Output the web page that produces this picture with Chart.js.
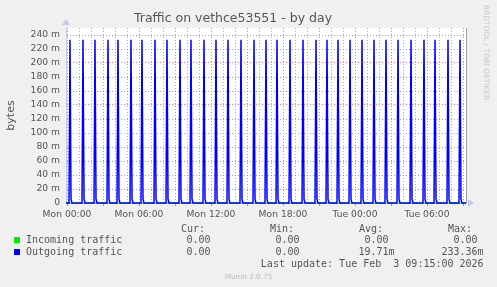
<!DOCTYPE html>
<html>
<head>
<meta charset="utf-8">
<script src="https://cdn.jsdelivr.net/npm/chart.js@4.4.1/dist/chart.umd.min.js"></script>
<style>
  html, body { margin: 0; padding: 0; background: #f0f0f0; }
  #wrap { position: relative; width: 497px; height: 287px; overflow: hidden; }
  #chart { position: absolute; left: 0; top: 0; }
  .mono { position: absolute; white-space: pre; font-family: "DejaVu Sans Mono", monospace; font-size: 10px; line-height: 12px; color: #555; }
  .box { position: absolute; width: 6px; height: 6px; }
  #rrd { position: absolute; left: 482px; top: 5px; writing-mode: vertical-rl; font-family: "DejaVu Sans", sans-serif; font-size: 7.4px; line-height: 9px; color: #c8c8c8; white-space: pre; }
  #munin { position: absolute; left: 0; width: 497px; top: 271.5px; text-align: center; font-family: "DejaVu Sans", sans-serif; font-size: 7.3px; line-height: 9px; color: #bbb; }
</style>
</head>
<body>
<div id="wrap">
  <canvas id="chart" width="497" height="287"></canvas>

  <div class="mono" style="right:292px; top:222.8px">Cur:</div>
  <div class="mono" style="right:203px; top:222.8px">Min:</div>
  <div class="mono" style="right:114px; top:222.8px">Avg:</div>
  <div class="mono" style="right:25px; top:222.8px">Max:</div>

  <div class="box" style="left:14px; top:237px; background:#00ee00"></div>
  <div class="mono" style="left:26px; top:234.1px">Incoming traffic</div>
  <div class="mono" id="inCur" style="right:280.4px; top:234.1px"></div>
  <div class="mono" id="inMin" style="right:191.4px; top:234.1px"></div>
  <div class="mono" id="inAvg" style="right:102.4px; top:234.1px"></div>
  <div class="mono" id="inMax" style="right:13.4px; top:234.1px"></div>

  <div class="box" style="left:14px; top:248.5px; background:#0000ff"></div>
  <div class="mono" style="left:26px; top:245.8px">Outgoing traffic</div>
  <div class="mono" id="outCur" style="right:280.4px; top:245.8px"></div>
  <div class="mono" id="outMin" style="right:191.4px; top:245.8px"></div>
  <div class="mono" id="outAvg" style="right:102.4px; top:245.8px"></div>
  <div class="mono" id="outMax" style="right:13.4px; top:245.8px"></div>

  <div class="mono" style="right:13.4px; top:257.8px">Last update: Tue Feb  3 09:15:00 2026</div>
  <div id="munin">Munin 2.0.75</div>
  <div id="rrd">RRDTOOL / TOBI OETIKER</div>
</div>

<script>
// x values are minutes after Mon 00:00, y values are in milli-bytes (m)
const tickLabels = ['Mon 00:00', 'Mon 06:00', 'Mon 12:00', 'Mon 18:00', 'Tue 00:00', 'Tue 06:00'];
const startMin = -5;
const endMin = 1995;

// outgoing bursts: one 5-min sample at the peak, then a small tail sample
const burstTimes = [15, 80, 140, 205, 255, 320, 375, 440, 500, 565, 620, 685, 745, 805, 870, 935, 995,
  1050, 1115, 1180, 1245, 1300, 1355, 1415, 1475, 1535, 1595, 1655, 1720, 1785, 1840, 1905, 1965];
const burstPeaks = [233.36, 233.36, 233.36, 233.36, 233.36, 233.36, 233.36, 233.36, 233.36, 233.36, 233.36,
  233.36, 233.36, 233.36, 233.36, 233.36, 233.36, 233.36, 233.36, 233.36, 233.36, 233.36,
  233.36, 233.36, 233.36, 233.36, 233.36, 233.36, 233.36, 233.36, 233.36, 233.36, 233.36];
const burstTails = [5.5, 5.5, 5.5, 5.5, 5.5, 5.5, 5.5, 5.5, 5.5, 5.5, 5.5, 5.5, 5.5, 5.5, 5.5, 5.5, 5.5,
  5.5, 5.5, 5.5, 5.5, 5.5, 5.5, 5.5, 5.5, 5.5, 5.5, 5.5, 5.5, 5.5, 5.5, 5.5, 5.5];

// incoming stays flat at zero
const incomingTimes = [startMin, endMin];
const incomingValues = [0, 0];

// legend numbers: cur, min, avg, max
const incomingStats = ['0.00 ', '0.00 ', '0.00 ', '0.00 '];
const outgoingStats = ['0.00 ', '0.00 ', '19.71m', '233.36m'];

['Cur', 'Min', 'Avg', 'Max'].forEach((k, i) => {
  document.getElementById('in' + k).textContent = incomingStats[i];
  document.getElementById('out' + k).textContent = outgoingStats[i];
});

const outgoing = [{ x: startMin, y: 0 }];
burstTimes.forEach((t, i) => {
  outgoing.push({ x: t - 5, y: 0 });
  outgoing.push({ x: t, y: burstPeaks[i] });
  outgoing.push({ x: t + 5, y: burstTails[i] });
  outgoing.push({ x: t + 10, y: 0 });
});
outgoing.push({ x: endMin, y: 0 });

const incoming = incomingTimes.map((t, i) => ({ x: t, y: incomingValues[i] }));

const hourTicks = [];
for (let m = 0; m <= endMin; m += 60) hourTicks.push(m);

const RED = 'rgba(220,100,100,0.8)';
const GRAY = 'rgba(150,150,150,0.8)';
const AXIS = '#c8c8f0';

const plotBg = {
  id: 'plotBg',
  beforeDraw(chart) {
    const { ctx, chartArea: a } = chart;
    ctx.save();
    ctx.fillStyle = '#fff';
    ctx.fillRect(a.left, a.top, a.right - a.left, a.bottom - a.top);
    ctx.restore();
  },
  afterDraw(chart) {
    const { ctx, chartArea: a } = chart;
    ctx.save();
    // right edge rule
    ctx.strokeStyle = '#a0a0a0';
    ctx.lineWidth = 1;
    ctx.beginPath();
    ctx.moveTo(a.right + 0.5, a.top);
    ctx.lineTo(a.right + 0.5, a.bottom);
    ctx.stroke();
    // axis arrows
    ctx.fillStyle = AXIS;
    ctx.beginPath();
    ctx.moveTo(a.left - 4, a.top - 3);
    ctx.lineTo(a.left + 4, a.top - 3);
    ctx.lineTo(a.left, a.top - 9);
    ctx.closePath();
    ctx.fill();
    ctx.beginPath();
    ctx.moveTo(a.right + 2, a.bottom - 4);
    ctx.lineTo(a.right + 2, a.bottom + 4);
    ctx.lineTo(a.right + 8, a.bottom);
    ctx.closePath();
    ctx.fill();
    ctx.restore();
  },
};

new Chart(document.getElementById('chart'), {
  type: 'line',
  data: {
    datasets: [
      {
        label: 'Outgoing traffic',
        data: outgoing,
        borderColor: '#0000ff',
        borderWidth: 1.5,
        pointRadius: 0,
        tension: 0,
        fill: false,
        clip: 3,
        order: 0,
      },
      {
        label: 'Incoming traffic',
        data: incoming,
        borderColor: '#00ee00',
        borderWidth: 1,
        pointRadius: 0,
        tension: 0,
        fill: false,
        clip: 3,
        order: 1,
      },
    ],
  },
  options: {
    responsive: false,
    animation: false,
    devicePixelRatio: 1,
    layout: { padding: { left: 0, right: 31, top: 0, bottom: 0 } },
    plugins: {
      legend: { display: false },
      tooltip: { enabled: false },
      title: {
        display: true,
        text: 'Traffic on vethce53551 - by day',
        color: '#555',
        font: { family: 'DejaVu Sans', size: 12.5, weight: 'normal' },
        padding: { top: 11, bottom: 2 },
      },
    },
    scales: {
      x: {
        type: 'linear',
        min: startMin,
        max: endMin,
        afterBuildTicks: (s) => { s.ticks = hourTicks.map((v) => ({ value: v })); },
        afterFit: (s) => { s.height = 84; },
        ticks: {
          autoSkip: false,
          maxRotation: 0,
          minRotation: 0,
          padding: 3,
          color: '#555',
          font: { family: 'DejaVu Sans', size: 9.2 },
          callback: (v) => (v % 360 === 0 ? tickLabels[v / 360] : ''),
        },
        grid: {
          color: (c) => (c.tick && c.tick.value % 180 === 0 ? RED : GRAY),
          tickColor: (c) => (c.tick && c.tick.value % 180 === 0 ? RED : 'rgba(0,0,0,0)'),
          tickLength: 3,
          drawTicks: true,
          lineWidth: 1,
        },
        border: { display: true, color: AXIS, dash: [1, 2] },
      },
      y: {
        min: 0,
        max: 250,
        afterFit: (s) => { s.width = 66; },
        ticks: {
          stepSize: 10,
          padding: 6,
          color: '#555',
          font: { family: 'DejaVu Sans', size: 9.2 },
          callback: (v) => (v % 20 === 0 ? (v === 0 ? '0' : v + ' m') : ''),
        },
        grid: {
          color: (c) => (c.tick && c.tick.value % 20 === 0 ? RED : GRAY),
          drawTicks: false,
          lineWidth: 1,
        },
        border: { display: true, color: AXIS, dash: [1, 2] },
        title: {
          display: true,
          text: 'bytes',
          color: '#555',
          font: { family: 'DejaVu Sans', size: 11 },
          padding: { top: 4.4, bottom: 0 },
        },
      },
    },
  },
  plugins: [plotBg],
});
</script>
</body>
</html>
